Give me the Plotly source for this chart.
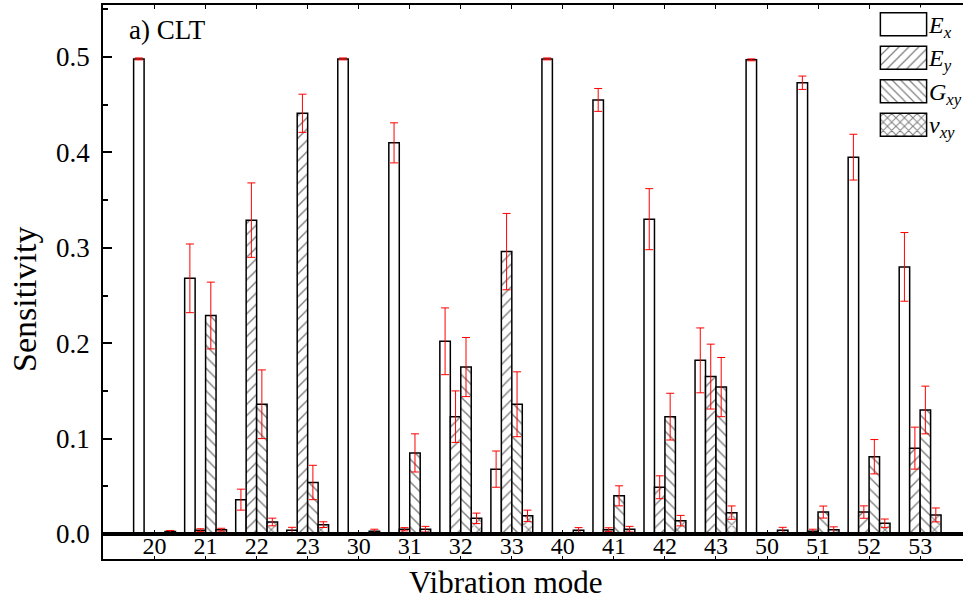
import plotly.graph_objects as go

# ---------------- data ----------------
modes = ["20", "21", "22", "23", "30", "31", "32", "33",
         "40", "41", "42", "43", "50", "51", "52", "53"]

Ex = [0.498, 0.268, 0.036, 0.004, 0.498, 0.410, 0.202, 0.068,
      0.498, 0.455, 0.330, 0.182, 0.497, 0.473, 0.395, 0.280]
Ex_err = [0.001, 0.036, 0.011, 0.003, 0.001, 0.021, 0.035, 0.019,
          0.001, 0.012, 0.032, 0.034, 0.001, 0.007, 0.024, 0.036]

Ey = [0.001, 0.004, 0.329, 0.441, 0.001, 0.005, 0.123, 0.296,
      0.001, 0.0045, 0.049, 0.165, 0.001, 0.003, 0.023, 0.090]
Ey_err = [0.0005, 0.0015, 0.039, 0.020, 0.0005, 0.0017, 0.027, 0.040,
          0.0005, 0.002, 0.012, 0.034, 0.0005, 0.002, 0.0065, 0.022]

Gxy = [0.0, 0.229, 0.136, 0.054, 0.0, 0.085, 0.175, 0.136,
       0.0, 0.040, 0.123, 0.154, 0.0, 0.023, 0.081, 0.130]
Gxy_err = [None, 0.035, 0.036, 0.018, None, 0.020, 0.031, 0.034,
           None, 0.0105, 0.0245, 0.031, None, 0.0063, 0.018, 0.025]

vxy = [0.0025, 0.0045, 0.0126, 0.0098, 0.003, 0.005, 0.0164, 0.019,
       0.004, 0.005, 0.014, 0.0224, 0.004, 0.0045, 0.0112, 0.020]
vxy_err = [0.0012, 0.0015, 0.004, 0.003, 0.002, 0.003, 0.0055, 0.006,
           0.0027, 0.003, 0.0055, 0.007, 0.003, 0.003, 0.0045, 0.0073]

y_ticks = [0.0, 0.1, 0.2, 0.3, 0.4, 0.5]
y_ticklabels = ["0.0", "0.1", "0.2", "0.3", "0.4", "0.5"]

legend_labels = ["<i>E</i><sub><i>x</i></sub>", "<i>E</i><sub><i>y</i></sub>",
                 "<i>G</i><sub><i>xy</i></sub>", "<i>v</i><sub><i>xy</i></sub>"]
legend_swatch = [1, 1, 1, 1]

FONT = "Liberation Serif"
X_RANGE = [-1.01, 15.84]
STRIP = 25 / 554  # height of the label band under the zero line

series = [
    ("Ex", Ex, Ex_err, "", 8, 0.18),
    ("Ey", Ey, Ey_err, "/", 8, 0.18),
    ("Gxy", Gxy, Gxy_err, "\\", 8, 0.18),
    ("vxy", vxy, vxy_err, "x", 7, 0.28),
]

fig = go.Figure()
for name, vals, errs, shape, psize, psol in series:
    fig.add_trace(go.Bar(
        x=modes, y=vals, name=name, showlegend=False,
        marker=dict(color="white",
                    line=dict(color="black", width=1.5),
                    pattern=dict(shape=shape, fgcolor="black", bgcolor="white",
                                 size=psize, solidity=psol)),
        error_y=dict(type="data", array=errs, color="red",
                     thickness=1, width=4),
    ))

# empty trace so that the label band subplot (x3/y3) is created
fig.add_trace(go.Scatter(x=[], y=[], xaxis="x3", yaxis="y3",
                         showlegend=False, hoverinfo="skip"))

# legend drawn as a small inset bar chart (large swatches like the original)
fig.add_trace(go.Bar(
    x=legend_swatch, y=legend_labels, orientation="h",
    xaxis="x2", yaxis="y2", width=0.69, showlegend=False, hoverinfo="skip",
    marker=dict(color="white",
                line=dict(color="black", width=1.5),
                pattern=dict(shape=["", "/", "\\", "x"], fgcolor="black",
                             bgcolor="white", size=[8, 7, 6, 6],
                             solidity=[0.18, 0.18, 0.2, 0.3])),
))

fig.update_layout(
    width=963, height=605,
    margin=dict(l=103, r=0, t=5, b=46),
    paper_bgcolor="white", plot_bgcolor="white",
    barmode="group", bargap=0.18, bargroupgap=0.0,
    font=dict(family=FONT, color="black"),
    xaxis=dict(
        type="category", categoryorder="array", categoryarray=modes,
        range=X_RANGE, anchor="y",
        showline=True, linecolor="black", linewidth=1.5, mirror="ticks",
        ticks="inside", ticklen=4, tickcolor="black", tickwidth=1,
        tickfont=dict(family=FONT, size=24, color="black"),
        ticklabelstandoff=-11,
        showgrid=False, zeroline=False,
    ),
    yaxis=dict(
        domain=[STRIP, 1], anchor="x",
        range=[0, 0.5545],
        tickvals=y_ticks, ticktext=y_ticklabels,
        showline=True, linecolor="black", linewidth=1.5,
        ticks="inside", ticklen=9, tickcolor="black", tickwidth=1.5,
        minor=dict(ticks="inside", ticklen=5, dtick=0.05, tickcolor="black"),
        tickfont=dict(family=FONT, size=27, color="black"),
        ticklabelstandoff=6,
        showgrid=False, zeroline=False,
    ),
    xaxis3=dict(
        type="category", categoryorder="array", categoryarray=modes,
        range=X_RANGE, anchor="y3",
        showline=True, linecolor="black", linewidth=1.5, mirror=True,
        ticks="inside", ticklen=3, tickcolor="black", tickwidth=1,
        showticklabels=False, showgrid=False, zeroline=False,
    ),
    yaxis3=dict(
        domain=[0, STRIP], anchor="x3", range=[0, 1],
        showline=True, linecolor="black", linewidth=1.5,
        ticks="", showticklabels=False, showgrid=False, zeroline=False,
    ),
    xaxis2=dict(domain=[0.9023, 0.9593], range=[-0.03, 1.03], visible=False,
                anchor="y2", fixedrange=True),
    yaxis2=dict(domain=[0.7536, 0.9955], anchor="x2", type="category",
                categoryorder="array", categoryarray=legend_labels,
                range=[3.5, -0.5], side="right", showline=False, ticks="",
                showgrid=False, zeroline=False,
                tickfont=dict(family=FONT, size=24, color="black"),
                fixedrange=True),
    annotations=[
        dict(text="a) CLT", xref="paper", yref="paper",
             x=0.0279, y=0.955, xanchor="left", yanchor="middle",
             showarrow=False, font=dict(family=FONT, size=27)),
        dict(text="Vibration mode", xref="paper", yref="paper",
             x=(506 - 103) / 860, y=(559 - 582) / 554,
             xanchor="center", yanchor="middle", showarrow=False,
             font=dict(family=FONT, size=31)),
        dict(text="Sensitivity", xref="paper", yref="paper",
             x=(24 - 103) / 860, y=(559 - 300) / 554, textangle=-90,
             xanchor="center", yanchor="middle", showarrow=False,
             font=dict(family=FONT, size=34)),
    ],
)

fig.write_html("out.html")
